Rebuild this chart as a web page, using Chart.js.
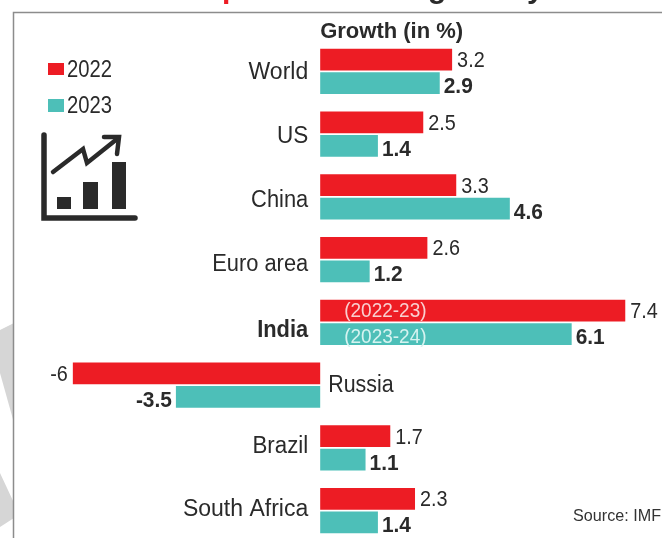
<!DOCTYPE html>
<html>
<head>
<meta charset="utf-8">
<style>
  html, body { margin: 0; padding: 0; background: #fff; overflow: hidden; width: 662px; height: 538px; }
  canvas { display: block; filter: blur(0.6px); }
</style>
<script src="https://cdn.jsdelivr.net/npm/chart.js@4"></script>
</head>
<body>
<canvas id="myChart" width="662" height="545"></canvas>
<script>
var categories = ["World", "US", "China", "Euro area", "India", "Russia", "Brazil", "South Africa"];
var values2022 = [3.2, 2.5, 3.3, 2.6, 7.4, -6, 1.7, 2.3];
var values2023 = [2.9, 1.4, 4.6, 1.2, 6.1, -3.5, 1.1, 1.4];
var seriesNames = ["2022", "2023"];
var indiaPeriods = ["(2022-23)", "(2023-24)"];

var RED = "#ed1c24";
var TEAL = "#4dbfb8";
var INK = "#2a2a2a";
var FONT = '"Liberation Sans", sans-serif';
// the labels in the original don't sit exactly on the row centres
var labelNudge = [1, 3, 4, 5, 8, 1, -1, -1];
var labelSqueeze = [1, 0.98, 0.95, 0.95, 0.95, 0.93, 0.97, 1];

// squeezed text, the original face is narrower than anything installed
function squeezed(ctx, txt, x, y, sx) {
  ctx.save();
  ctx.translate(x, y);
  ctx.scale(sx, 1);
  ctx.fillText(txt, 0, 0);
  ctx.restore();
}

function drawFrame(ctx) {
  // watermark scraps left of the frame
  ctx.fillStyle = "#d6d6d6";
  ctx.beginPath();
  ctx.moveTo(0, 330); ctx.lineTo(14, 323); ctx.lineTo(14, 423); ctx.lineTo(0, 373);
  ctx.closePath(); ctx.fill();
  ctx.beginPath();
  ctx.moveTo(0, 473); ctx.lineTo(14, 503); ctx.lineTo(14, 518); ctx.lineTo(0, 527);
  ctx.closePath(); ctx.fill();

  ctx.strokeStyle = "#8c8c8c";
  ctx.lineWidth = 1.5;
  ctx.beginPath();
  ctx.moveTo(13.5, 545); ctx.lineTo(13.5, 12.5); ctx.lineTo(662, 12.5);
  ctx.stroke();

  // headline is cut off by the crop, only descenders show
  ctx.textAlign = "left";
  ctx.textBaseline = "alphabetic";
  ctx.font = "bold 30px " + FONT;
  ctx.fillStyle = RED;
  ctx.fillText("p", 222, -2);
  ctx.fillStyle = INK;
  ctx.fillText("g", 428, -2);
  ctx.fillText("y", 527, -2);
}

function drawIcon(ctx) {
  ctx.strokeStyle = INK;
  ctx.fillStyle = INK;
  ctx.lineCap = "round";
  ctx.lineJoin = "miter";
  ctx.lineWidth = 5.5;
  ctx.beginPath();
  ctx.moveTo(44, 135); ctx.lineTo(44, 218); ctx.lineTo(135, 218);
  ctx.stroke();
  ctx.fillRect(57, 197, 14, 12);
  ctx.fillRect(83, 182, 15, 27);
  ctx.fillRect(112, 162, 14, 47);
  ctx.lineWidth = 4.5;
  ctx.beginPath();
  ctx.moveTo(53, 172); ctx.lineTo(83, 149); ctx.lineTo(87, 163); ctx.lineTo(117, 139);
  ctx.stroke();
  ctx.beginPath();
  ctx.moveTo(104, 137); ctx.lineTo(119, 137); ctx.lineTo(117, 154);
  ctx.stroke();
}

function drawLegend(ctx) {
  ctx.font = "23px " + FONT;
  ctx.textAlign = "left";
  ctx.textBaseline = "middle";
  ctx.fillStyle = RED;
  ctx.fillRect(48, 63, 16, 12);
  ctx.fillStyle = TEAL;
  ctx.fillRect(48, 99, 16, 13);
  ctx.fillStyle = INK;
  squeezed(ctx, seriesNames[0], 67, 71, 0.88);
  squeezed(ctx, seriesNames[1], 67, 107, 0.88);
}

var labelsPlugin = {
  id: "labels",
  beforeDatasetsDraw: function (chart) {
    var ctx = chart.ctx;
    ctx.save();
    drawFrame(ctx);
    drawIcon(ctx);
    drawLegend(ctx);
    ctx.restore();
  },
  afterDatasetsDraw: function (chart) {
    var ctx = chart.ctx;
    var zero = chart.scales.x.getPixelForValue(0);
    ctx.save();
    ctx.textBaseline = "middle";

    ctx.fillStyle = INK;
    ctx.textAlign = "left";
    ctx.font = "bold 22px " + FONT;
    ctx.fillText("Growth (in %)", zero, 32);

    categories.forEach(function (name, i) {
      var y = chart.scales.y.getPixelForValue(i) + labelNudge[i];
      var negative = values2022[i] < 0;
      ctx.font = (name === "India" ? "bold " : "") + "23px " + FONT;
      ctx.textAlign = negative ? "left" : "right";
      ctx.fillStyle = INK;
      squeezed(ctx, name, negative ? zero + 8 : zero - 12, y, labelSqueeze[i]);
    });

    chart.data.datasets.forEach(function (ds, d) {
      var meta = chart.getDatasetMeta(d);
      ds.data.forEach(function (v, i) {
        var bar = meta.data[i];
        ctx.font = (d === 1 ? "bold " : "") + "22px " + FONT;
        ctx.fillStyle = INK;
        ctx.textAlign = v < 0 ? "right" : "left";
        var gap = d === 1 ? 4 : 5;
        squeezed(ctx, String(v), bar.x + (v < 0 ? -gap : gap), bar.y + (d === 1 ? 4 : 1.5), d === 1 ? 0.95 : 0.9);
      });
    });

    // period notes inside the India bars
    var india = categories.indexOf("India");
    ctx.font = "20px " + FONT;
    ctx.textAlign = "left";
    indiaPeriods.forEach(function (txt, d) {
      var bar = chart.getDatasetMeta(d).data[india];
      ctx.fillStyle = d === 0 ? "#f9cfd0" : "#d6f3f0";
      squeezed(ctx, txt, zero + 24, bar.y + (d === 0 ? 1 : 3), 0.95);
    });

    ctx.fillStyle = "#333";
    ctx.textAlign = "right";
    ctx.font = "17px " + FONT;
    squeezed(ctx, "Source: IMF", 661, 516, 0.95);
    ctx.restore();
  }
};

new Chart("myChart", {
  type: "bar",
  data: {
    labels: categories,
    datasets: [
      { label: seriesNames[0], data: values2022, backgroundColor: RED },
      { label: seriesNames[1], data: values2023, backgroundColor: TEAL }
    ]
  },
  options: {
    indexAxis: "y",
    responsive: false,
    animation: false,
    categoryPercentage: 0.75,
    barPercentage: 0.93,
    layout: { padding: { left: 11, right: 12, top: 40, bottom: 3 } },
    plugins: {
      legend: { display: false },
      tooltip: { enabled: false }
    },
    scales: {
      x: { display: false, min: -7.5, max: 8 },
      y: { display: false }
    }
  },
  plugins: [labelsPlugin]
});
</script>
</body>
</html>
